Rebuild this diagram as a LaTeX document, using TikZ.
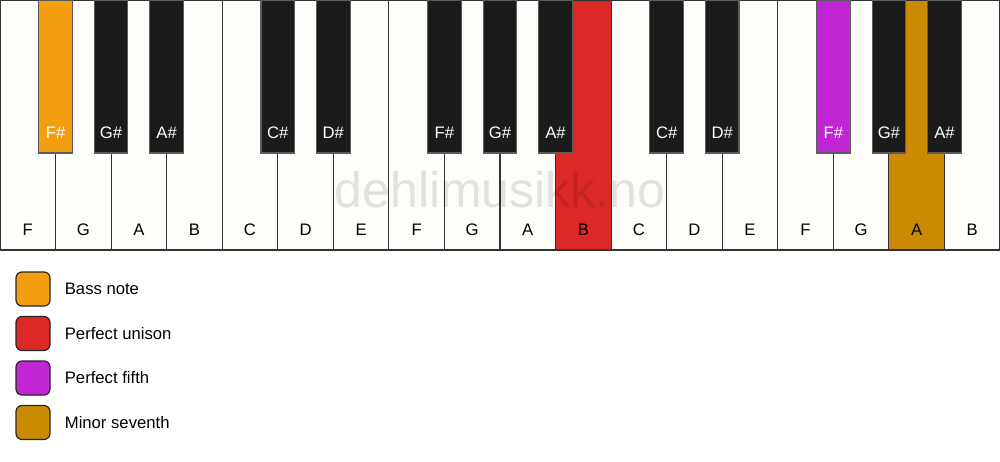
\documentclass[tikz,border=0pt]{standalone}
\usepackage{fontspec}
\setmainfont{Liberation Sans}
\usetikzlibrary{positioning}
\definecolor{keywhite}{HTML}{FFFDF9}
\definecolor{keyblack}{HTML}{1B1B1B}
\definecolor{keyline}{HTML}{333333}
\definecolor{bass}{HTML}{F39E0F}
\definecolor{unison}{HTML}{DD2828}
\definecolor{fifth}{HTML}{C026D3}
\definecolor{seventh}{HTML}{CA8A04}
\begin{document}
\begin{tikzpicture}[x=0.75pt,y=-0.75pt]
		\tikzset{whitekey/.style = {shape=rectangle, draw=keyline, line width=0.8pt, anchor=north west, inner sep=0pt, outer sep=0pt, minimum width=41.667pt, minimum height=187.5pt},
			blackkey/.style = {shape=rectangle, draw=keyline!80, line width=0.8pt, anchor=north, inner sep=0pt, outer sep=0pt, minimum width=25.2pt, minimum height=114.75pt},
			keylabel/.style = {font=\fontsize{12.5}{14}\selectfont, inner sep=0pt},
			legendbox/.style = {shape=rectangle, rounded corners=4.5pt, draw=black!85, line width=0.9pt, minimum size=25.5pt, inner sep=0pt},
			legendtext/.style = {font=\fontsize{12.5}{14}\selectfont, inner sep=0pt, anchor=west}}
		\useasboundingbox (0,0) rectangle (1000,461);
		\fill[white] (0,0) rectangle (1000,461);
		% white keys
		\foreach \n/\c [count=\i from 0] in {F/keywhite,G/keywhite,A/keywhite,B/keywhite,C/keywhite,D/keywhite,E/keywhite,F/keywhite,G/keywhite,A/keywhite,B/unison,C/keywhite,D/keywhite,E/keywhite,F/keywhite,G/keywhite,A/seventh,B/keywhite}
		{
			\node[whitekey, fill=\c] (w\i) at ({\i*55.5556},0) {};
			\node[keylabel] (wl\i) at ({(\i+0.5)*55.5556},230) {\n};
		}
		\node[font=\fontsize{37.5}{42}\selectfont, text=black, opacity=0.11, inner sep=0pt, anchor=base] (mark) at (500,207) {dehlimusikk.no};
		% black keys
		\foreach \b/\n/\c in {1/F/bass,2/G/keyblack,3/A/keyblack,5/C/keyblack,6/D/keyblack,8/F/keyblack,9/G/keyblack,10/A/keyblack,12/C/keyblack,13/D/keyblack,15/F/fifth,16/G/keyblack,17/A/keyblack}
		{
			\node[blackkey, fill=\c] (b\b) at ({\b*55.5556},0) {};
			\node[keylabel, text=white] (bl\b) at ({\b*55.5556},133) {\n\#};
		}
		% legend
		\foreach \c/\t [count=\k from 0] in {bass/Bass note,unison/Perfect unison,fifth/Perfect fifth,seventh/Minor seventh}
		{
			\node[legendbox, fill=\c] (box\k) at (33,{289+\k*44.5}) {};
			\node[legendtext, right=10.5pt of box\k] (txt\k) {\t};
		}
\end{tikzpicture}
\end{document}
